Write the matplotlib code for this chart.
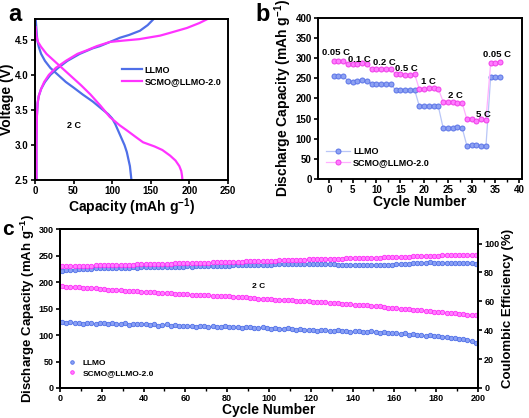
import numpy as np
import matplotlib
matplotlib.use("Agg")
import matplotlib.pyplot as plt
from matplotlib.ticker import MultipleLocator

plt.rcParams['font.family'] = ['Liberation Sans', 'DejaVu Sans']
plt.rcParams['font.weight'] = 'bold'
plt.rcParams['axes.labelweight'] = 'bold'
plt.rcParams['mathtext.fontset'] = 'custom'
plt.rcParams['mathtext.rm'] = 'Liberation Sans:bold'
plt.rcParams['mathtext.bf'] = 'Liberation Sans:bold'
plt.rcParams['mathtext.default'] = 'rm'

BLUE = '#4f6fe8'
PINK = '#ff33ff'

# ---- panel a: charge / discharge profiles at 2 C (capacity, voltage)
llmo_chg_cap = [2, 2, 2.5, 3.5, 5, 8, 13, 20, 30, 42, 58, 75, 84, 95, 110, 122, 136, 146, 154]
llmo_chg_v = [2.5, 3.0, 3.4, 3.6, 3.7, 3.8, 3.9, 4.0, 4.1, 4.2, 4.3, 4.38, 4.41, 4.46, 4.53, 4.57, 4.63, 4.71, 4.8]
scmo_chg_cap = [2, 2, 2.5, 3.5, 5, 8, 12, 18, 27, 40, 55, 67, 80, 97, 115, 135, 162, 175, 197, 213, 224]
scmo_chg_v = [2.5, 3.0, 3.4, 3.6, 3.7, 3.8, 3.9, 4.0, 4.1, 4.2, 4.3, 4.35, 4.41, 4.47, 4.49, 4.51, 4.56, 4.6, 4.67, 4.74, 4.8]
llmo_dis_cap = [1, 2, 3, 5, 8, 13, 20, 30, 40, 50, 62, 75, 86, 95, 100, 104, 108, 112, 116, 119, 121, 123, 124, 125]
llmo_dis_v = [4.8, 4.65, 4.5, 4.4, 4.3, 4.2, 4.1, 4.0, 3.9, 3.82, 3.72, 3.62, 3.52, 3.44, 3.38, 3.3, 3.2, 3.1, 3.0, 2.9, 2.8, 2.7, 2.6, 2.5]
scmo_dis_cap = [1, 2, 4, 8, 15, 25, 35, 45, 60, 72, 85, 97, 110, 119, 130, 140, 155, 165, 175, 182, 187, 189.5, 190.5, 191]
scmo_dis_v = [4.68, 4.55, 4.47, 4.4, 4.3, 4.2, 4.1, 4.0, 3.85, 3.72, 3.56, 3.4, 3.28, 3.21, 3.12, 3.04, 2.98, 2.93, 2.85, 2.78, 2.7, 2.63, 2.56, 2.5]

# ---- panel b: rate capability
rate_cycles = list(range(1, 37))
llmo_rate = [257, 256, 256,
             244, 242, 244, 245, 244,
             237, 236, 236, 235, 236,
             221, 220, 222, 222, 222,
             181, 181, 180, 180, 180,
             127, 126, 127, 128, 127,
             82, 84, 84, 82, 82,
             254, 254, 253]
scmo_rate = [292, 292, 292,
             286, 285, 286, 287, 285,
             272, 272, 274, 273, 274,
             260, 260, 259, 259, 261,
             223, 224, 225, 226, 224,
             192, 192, 191, 189, 189,
             148, 148, 144, 148, 147,
             289, 289, 290]
rate_labels = ['0.05 C', '0.1 C', '0.2 C', '0.5 C', '1 C', '2 C', '5 C', '0.05 C']
rate_label_x = [1.4, 6.4, 11.6, 16.2, 21.0, 26.5, 32.4, 35.4]
rate_label_y = [313, 298, 290, 275, 241, 207, 159, 310]

# ---- panel c: long cycling at 2 C (every second cycle)
cyc = list(range(1, 200, 2))
scmo_cap = [192, 191, 191, 190, 190, 189, 189, 188, 188, 187,
            187, 186, 186, 185, 185, 184, 184, 183, 183, 182,
            182, 181, 181, 180, 180, 179, 179, 178, 178, 177,
            177, 176, 176, 175, 175, 175, 174, 174, 173, 173,
            173, 172, 172, 171, 171, 170, 170, 169, 169, 168,
            168, 167, 167, 167, 166, 166, 165, 165, 164, 164,
            163, 163, 162, 162, 161, 160, 160, 159, 159, 158,
            157, 157, 156, 156, 155, 154, 154, 153, 152, 151,
            151, 150, 149, 149, 148, 147, 147, 146, 145, 144,
            144, 143, 142, 142, 141, 140, 139, 138, 138, 137]
llmo_cap = [124, 123, 124, 122, 123, 121, 123, 122, 121, 123,
            122, 121, 122, 120, 121, 122, 119, 120, 121, 120,
            121, 119, 120, 118, 119, 120, 118, 119, 117, 118,
            117, 118, 116, 117, 118, 116, 117, 115, 116, 117,
            116, 115, 116, 114, 115, 116, 113, 114, 115, 113,
            112, 113, 111, 112, 113, 111, 110, 112, 110, 109,
            110, 108, 109, 110, 108, 107, 109, 108, 107, 106,
            107, 108, 106, 105, 107, 105, 104, 106, 104, 103,
            104, 102, 103, 101, 102, 100, 101, 99, 100, 98,
            98, 97, 96, 95, 94, 93, 92, 91, 88, 85]
scmo_ce = [84.2, 84.4, 84.5, 84.4, 84.6, 84.7, 84.6, 84.8, 84.9, 85.0,
           85.0, 85.1, 85.2, 85.1, 85.3, 85.4, 85.4, 85.5, 85.6, 85.7,
           85.7, 85.8, 85.9, 86.0, 86.0, 86.1, 86.2, 86.3, 86.3, 86.5,
           86.5, 86.6, 86.7, 86.8, 86.8, 86.9, 87.0, 87.1, 87.1, 87.2,
           87.3, 87.4, 87.4, 87.5, 87.6, 87.7, 87.7, 87.8, 87.9, 88.0,
           88.1, 88.2, 88.3, 88.4, 88.5, 88.6, 88.7, 88.8, 88.9, 89.0,
           89.1, 89.1, 89.2, 89.3, 89.4, 89.4, 89.5, 89.6, 89.7, 89.7,
           89.8, 89.9, 90.0, 90.0, 90.1, 90.2, 90.3, 90.4, 90.5, 90.6,
           90.7, 90.8, 90.9, 91.0, 91.1, 91.2, 91.3, 91.4, 91.5, 91.6,
           91.7, 91.8, 91.9, 92.0, 92.1, 92.2, 92.3, 92.3, 92.2, 92.3]
llmo_ce = [81.0, 81.4, 81.7, 82.0, 82.2, 82.4, 82.5, 82.7, 82.9, 83.0,
           83.1, 83.0, 83.2, 83.3, 83.2, 83.4, 83.3, 83.5, 83.4, 83.6,
           83.5, 83.6, 83.7, 83.6, 83.8, 83.9, 83.8, 84.0, 84.1, 84.0,
           84.2, 84.1, 84.3, 84.4, 84.3, 84.5, 84.6, 84.5, 84.7, 84.8,
           84.7, 84.9, 85.0, 84.9, 85.1, 85.2, 85.1, 85.3, 85.2, 85.4,
           85.5, 85.6, 85.7, 85.8, 85.9, 86.0, 86.1, 86.2, 86.1, 86.2,
           86.1, 86.0, 85.9, 85.8, 85.7, 85.6, 85.5, 85.5, 85.4, 85.3,
           85.3, 85.2, 85.2, 85.1, 85.0, 85.1, 85.2, 85.3, 85.4, 85.5,
           85.6, 85.8, 86.0, 86.2, 86.4, 86.6, 86.8, 86.9, 87.0, 86.9,
           86.9, 86.8, 86.8, 86.7, 86.6, 86.5, 86.4, 86.4, 86.3, 86.2]


def style_axes(ax, size=7):
    for sp in ax.spines.values():
        sp.set_linewidth(1.4)
    ax.tick_params(direction='out', width=1.2, length=3, labelsize=size, pad=1.5)
    ax.tick_params(which='minor', direction='out', width=1.0, length=2)
    for t in ax.get_xticklabels() + ax.get_yticklabels():
        t.set_fontweight('bold')


fig = plt.figure(figsize=(5.29, 4.18), dpi=100)

# ---------------- a
ax_a = fig.add_axes([0.066, 0.569, 0.365, 0.386])
ax_a.plot(llmo_chg_cap, llmo_chg_v, color=BLUE, lw=1.6, label='LLMO')
ax_a.plot(llmo_dis_cap, llmo_dis_v, color=BLUE, lw=1.6)
ax_a.plot(scmo_chg_cap, scmo_chg_v, color=PINK, lw=1.6, label='SCMO@LLMO-2.0')
ax_a.plot(scmo_dis_cap, scmo_dis_v, color=PINK, lw=1.6)
ax_a.set_xlim(0, 250)
ax_a.set_ylim(2.5, 4.8)
ax_a.xaxis.set_major_locator(MultipleLocator(50))
ax_a.yaxis.set_major_locator(MultipleLocator(0.5))
ax_a.set_xlabel('Capacity (mAh g$^{-1}$)', fontsize=10, labelpad=0)
ax_a.set_ylabel('Voltage (V)', fontsize=10, labelpad=1)
ax_a.text(41, 3.28, '2 C', fontsize=6.5, fontweight='bold', va='center')
ax_a.legend(loc='upper left', bbox_to_anchor=(0.41, 0.76), frameon=False,
            handlelength=2.2, handletextpad=0.3, labelspacing=0.3,
            prop={'weight': 'bold', 'size': 6.5})
style_axes(ax_a)

# ---------------- b
ax_b = fig.add_axes([0.601, 0.572, 0.386, 0.385])
ax_b.plot(rate_cycles, llmo_rate, color='#b9c6f7', lw=0.9, marker='o', ms=3.6,
          mfc='#8ea2f2', mec='#5b74e8', mew=0.7, label='LLMO')
ax_b.plot(rate_cycles, scmo_rate, color='#ffb0ff', lw=0.9, marker='o', ms=3.6,
          mfc='#ff7cff', mec='#f03ce8', mew=0.7, label='SCMO@LLMO-2.0')
for lab, x, y in zip(rate_labels, rate_label_x, rate_label_y):
    ax_b.text(x, y, lab, fontsize=6.8, fontweight='bold', ha='center', va='center')
ax_b.set_xlim(-2.3, 40.6)
ax_b.set_ylim(0, 400)
ax_b.xaxis.set_major_locator(MultipleLocator(5))
ax_b.xaxis.set_minor_locator(MultipleLocator(2.5))
ax_b.yaxis.set_major_locator(MultipleLocator(50))
ax_b.set_xlabel('Cycle Number', fontsize=10, labelpad=0)
ax_b.set_ylabel('Discharge Capacity (mAh g$^{-1}$)', fontsize=10, labelpad=1)
ax_b.legend(loc='lower left', bbox_to_anchor=(0.0, 0.02), frameon=False,
            handlelength=2.6, handletextpad=0.4, labelspacing=0.3,
            prop={'weight': 'bold', 'size': 6.5})
style_axes(ax_b)

# ---------------- c
ax_c = fig.add_axes([0.1134, 0.0718, 0.790, 0.380])
ax_c2 = ax_c.twinx()
c_blue = dict(ls='none', marker='o', ms=3.2, mfc='#8aa0f4', mec='#4f6fe8', mew=0.6)
c_pink = dict(ls='none', marker='o', ms=3.2, mfc='#ff80ff', mec='#ff2cf8', mew=0.6)
ax_c.plot(cyc, llmo_cap, label='LLMO', **c_blue)
ax_c.plot(cyc, scmo_cap, label='SCMO@LLMO-2.0', **c_pink)
ax_c2.plot(cyc, llmo_ce, **c_blue)
ax_c2.plot(cyc, scmo_ce, **c_pink)
ax_c.text(95, 192, '2 C', fontsize=6, fontweight='bold', ha='center', va='center')
ax_c.set_xlim(0, 200)
ax_c.set_ylim(0, 300)
ax_c2.set_ylim(0, 110)
ax_c.xaxis.set_major_locator(MultipleLocator(20))
ax_c.xaxis.set_minor_locator(MultipleLocator(10))
ax_c.yaxis.set_major_locator(MultipleLocator(50))
ax_c2.yaxis.set_major_locator(MultipleLocator(20))
ax_c.set_xlabel('Cycle Number', fontsize=10, labelpad=0)
ax_c.set_ylabel('Discharge Capacity (mAh g$^{-1}$)', fontsize=9.5, labelpad=1)
ax_c2.set_ylabel('Coulombic Efficiency (%)', fontsize=9.5, labelpad=2)
ax_c.legend(loc='lower left', bbox_to_anchor=(0.0, 0.02), frameon=False,
            handlelength=1.2, handletextpad=0.6, labelspacing=0.3, markerscale=0.8,
            prop={'weight': 'bold', 'size': 6})
style_axes(ax_c, size=6.5)
style_axes(ax_c2, size=6.5)

fig.text(0.015, 0.965, 'a', fontsize=17, fontweight='bold', va='center')
fig.text(0.483, 0.965, 'b', fontsize=17, fontweight='bold', va='center')
fig.text(0.004, 0.452, 'c', fontsize=15, fontweight='bold', va='center')

fig.savefig('out.png', dpi=100)
